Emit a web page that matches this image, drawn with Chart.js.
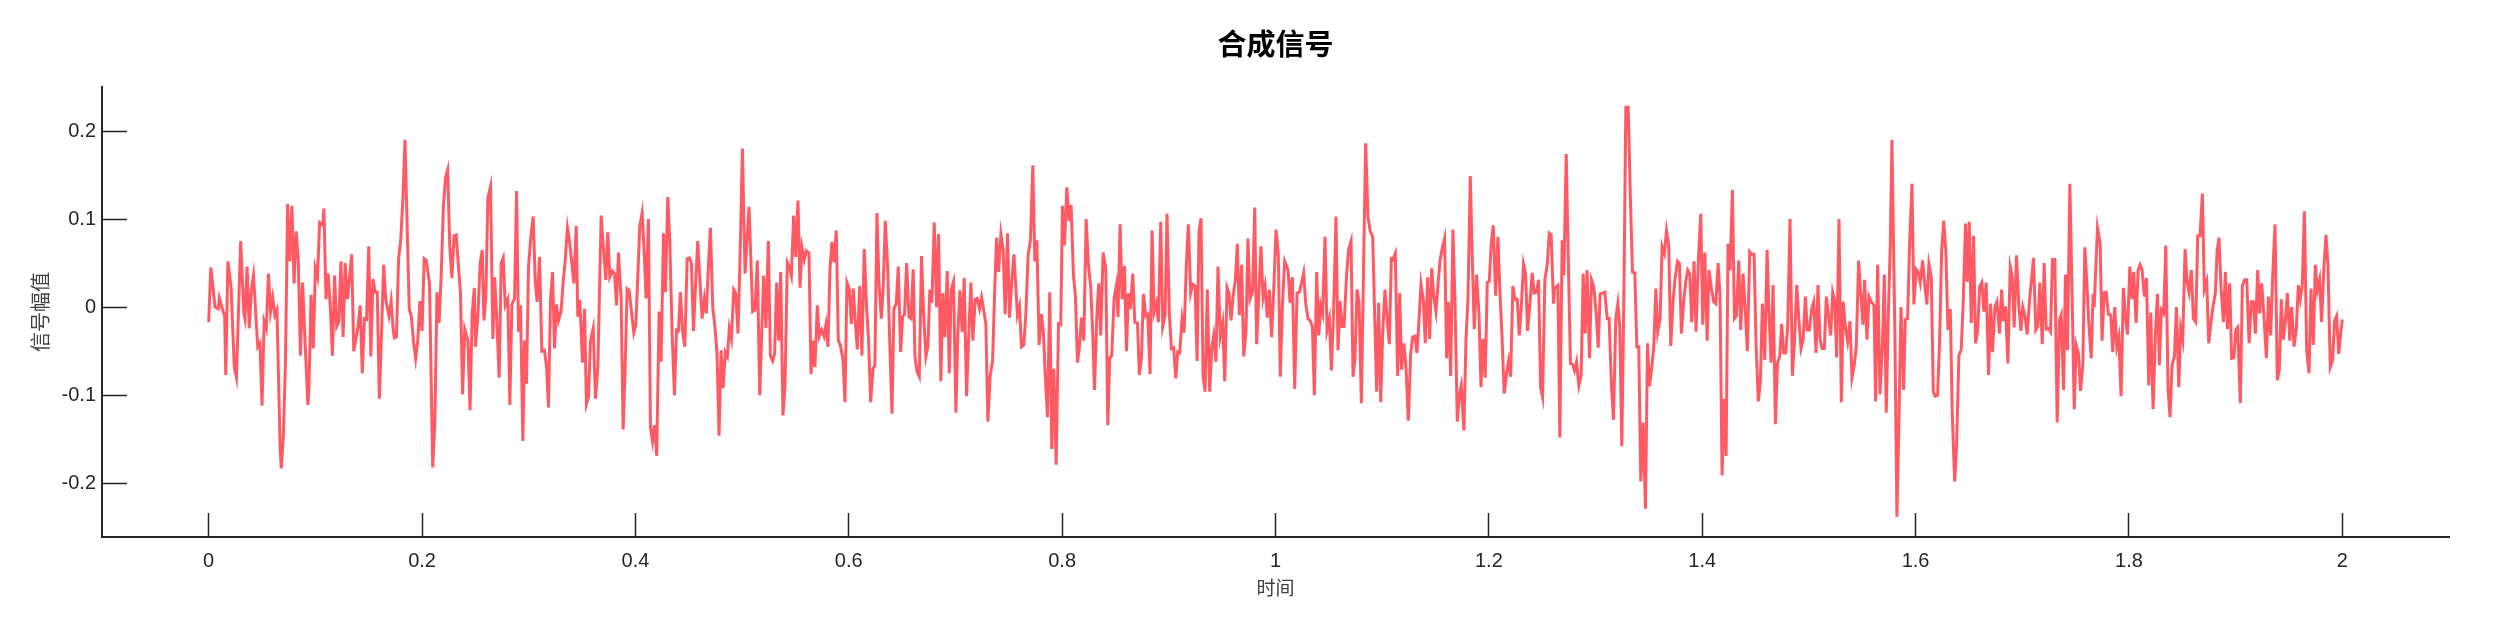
<!DOCTYPE html>
<html>
<head>
<meta charset="utf-8">
<script src="https://cdn.jsdelivr.net/npm/chart.js@4/dist/chart.umd.min.js"></script>
<style>
html,body{margin:0;padding:0;background:#fff;}
#wrap{width:2500px;height:625px;}
</style>
</head>
<body>
<div id="wrap"><canvas id="c" width="2500" height="625"></canvas></div>
<script>
const chartTitle = '合成信号';
const xTitle = '时间';
const yTitle = '信号幅值';
const xTicks = [0, 0.2, 0.4, 0.6, 0.8, 1, 1.2, 1.4, 1.6, 1.8, 2];
const yTicks = [-0.2, -0.1, 0, 0.1, 0.2];
// [time, amplitude] samples
const signal = [
[0.000,-0.017],[0.002,0.045],[0.006,0.000],[0.009,-0.002],[0.010,0.010],[0.013,-0.003],[0.015,-0.010],[0.016,-0.077],
[0.018,0.052],[0.021,0.023],[0.023,-0.038],[0.024,-0.068],[0.026,-0.080],[0.030,0.075],[0.033,-0.007],[0.034,-0.013],
[0.036,0.046],[0.038,-0.024],[0.040,0.019],[0.042,0.036],[0.046,-0.045],[0.048,-0.041],[0.050,-0.112],[0.052,-0.016],
[0.054,-0.024],[0.056,0.038],[0.058,-0.005],[0.060,0.011],[0.062,-0.009],[0.064,-0.003],[0.067,-0.160],[0.068,-0.183],
[0.070,-0.147],[0.072,-0.060],[0.074,0.117],[0.076,0.052],[0.078,0.115],[0.080,0.027],[0.082,0.086],[0.084,0.053],
[0.086,-0.055],[0.088,0.028],[0.090,-0.030],[0.093,-0.111],[0.094,-0.090],[0.096,0.014],[0.098,-0.047],[0.100,0.044],
[0.102,0.034],[0.104,0.096],[0.107,0.093],[0.108,0.112],[0.110,0.009],[0.112,0.038],[0.114,0.000],[0.116,-0.055],
[0.118,0.036],[0.120,-0.022],[0.122,-0.017],[0.124,0.052],[0.126,-0.034],[0.128,0.050],[0.130,0.009],[0.132,0.033],
[0.134,0.060],[0.136,-0.050],[0.140,-0.022],[0.142,0.002],[0.144,-0.075],[0.146,-0.013],[0.148,-0.014],[0.150,0.069],
[0.152,-0.056],[0.154,0.032],[0.156,0.017],[0.158,0.017],[0.160,-0.104],[0.162,-0.030],[0.164,0.048],[0.166,0.008],
[0.169,-0.010],[0.171,0.007],[0.173,-0.026],[0.174,-0.035],[0.176,-0.034],[0.178,0.055],[0.180,0.076],[0.182,0.122],
[0.184,0.190],[0.188,-0.002],[0.190,-0.011],[0.192,-0.039],[0.194,-0.058],[0.196,-0.038],[0.198,0.007],[0.200,-0.027],
[0.202,0.055],[0.204,0.053],[0.207,0.027],[0.209,-0.113],[0.210,-0.182],[0.212,-0.130],[0.214,0.017],[0.216,-0.018],
[0.218,0.038],[0.220,0.114],[0.222,0.147],[0.224,0.156],[0.226,0.069],[0.228,0.033],[0.230,0.081],[0.232,0.082],
[0.236,0.016],[0.238,-0.099],[0.240,-0.025],[0.243,-0.038],[0.245,-0.117],[0.247,-0.007],[0.249,0.022],[0.250,-0.045],
[0.2523,-0.011],[0.2545,0.050],[0.2564,0.065],[0.2580,-0.015],[0.2598,0.012],[0.2617,0.124],[0.2642,0.137],[0.2664,-0.036],
[0.2680,0.034],[0.2698,-0.007],[0.2723,-0.080],[0.2742,0.050],[0.2761,0.056],[0.2780,0.002],[0.2804,0.009],[0.2823,-0.111],
[0.2842,0.003],[0.2867,0.010],[0.2886,0.132],[0.2904,-0.028],[0.2923,0.002],[0.2945,-0.152],[0.2961,-0.038],[0.2979,-0.087],
[0.2998,0.046],[0.3023,0.084],[0.3042,0.103],[0.3061,0.029],[0.3079,0.006],[0.3101,0.057],[0.3123,-0.050],[0.3148,-0.049],
[0.3167,-0.068],[0.3185,-0.114],[0.3204,0.008],[0.3223,0.040],[0.3242,-0.047],[0.3260,0.003],[0.3279,-0.015],[0.3304,-0.004],
[0.3323,0.029],[0.3342,0.053],[0.3363,0.090],[0.3385,0.072],[0.3404,0.050],[0.3423,0.027],[0.3445,0.092],[0.3460,-0.011],
[0.3479,0.008],[0.3504,-0.063],[0.3523,-0.002],[0.3541,-0.110],[0.3560,-0.102],[0.3579,-0.038],[0.3604,-0.024],[0.3626,-0.104],
[0.3648,-0.068],[0.3679,0.104],[0.3704,0.061],[0.3723,0.031],[0.3741,0.085],[0.3760,0.034],[0.3785,0.041],[0.3804,0.038],
[0.3823,0.002],[0.3841,0.062],[0.3866,0.010],[0.3885,-0.139],[0.3904,-0.068],[0.3922,0.021],[0.3941,0.019],[0.3960,-0.002],
[0.3985,-0.029],[0.4004,-0.020],[0.4022,0.034],[0.4041,0.092],[0.4063,0.107],[0.4082,0.063],[0.4100,0.010],[0.4122,0.100],
[0.4141,-0.136],[0.4160,-0.152],[0.4178,-0.134],[0.4200,-0.169],[0.4222,-0.005],[0.4241,-0.062],[0.4263,0.084],[0.4282,0.017],
[0.4303,0.125],[0.4322,0.076],[0.4344,-0.030],[0.4366,-0.100],[0.4385,-0.026],[0.4403,-0.027],[0.4422,0.017],[0.4441,-0.026],
[0.4463,-0.045],[0.4485,0.055],[0.4506,0.056],[0.4525,0.050],[0.4544,-0.027],[0.4563,0.023],[0.4584,0.075],[0.4603,0.034],
[0.4625,-0.013],[0.4647,0.010],[0.4665,-0.007],[0.4684,0.046],[0.4703,0.090],[0.4725,0.000],[0.4747,-0.024],[0.4765,-0.053],
[0.4784,-0.146],[0.4803,-0.049],[0.4822,-0.092],[0.4843,-0.051],[0.4862,-0.056],[0.4881,-0.024],[0.4900,-0.036],[0.4922,0.020],
[0.4940,0.016],[0.4962,-0.030],[0.4984,0.072],[0.5003,0.180],[0.5028,0.038],
[0.5065,0.114],[0.5099,-0.005],[0.5121,-0.003],[0.5143,0.053],[0.5165,-0.100],[0.5202,0.036],[0.5224,-0.024],[0.5246,0.075],
[0.5265,-0.055],[0.5287,-0.061],[0.5305,-0.053],[0.5324,0.028],[0.5343,-0.038],[0.5362,0.040],[0.5383,-0.123],[0.5402,-0.090],
[0.5424,0.051],[0.5443,0.046],[0.5462,0.036],[0.5483,0.104],[0.5502,0.057],[0.5524,0.121],[0.5543,0.022],[0.5561,0.068],
[0.5583,0.054],[0.5602,0.064],[0.5627,0.061],[0.5646,-0.076],[0.5664,-0.038],[0.5683,-0.068],[0.5705,0.002],[0.5724,-0.033],
[0.5746,-0.026],[0.5768,-0.033],[0.5786,-0.020],[0.5805,-0.045],[0.5824,0.044],[0.5842,0.074],[0.5861,0.051],[0.5883,0.087],
[0.5902,-0.038],[0.5921,-0.043],[0.5946,-0.060],[0.5964,-0.108],[0.5983,0.028],[0.6005,0.020],[0.6024,-0.019],[0.6042,0.021],
[0.6061,-0.016],[0.6080,-0.048],[0.6102,0.024],[0.6123,-0.055],[0.6145,0.066],[0.6167,0.000],[0.6186,-0.038],[0.6205,-0.108],
[0.6227,-0.070],[0.6245,-0.066],[0.6264,0.107],[0.6283,0.028],[0.6305,-0.013],[0.6323,0.023],[0.6342,0.098],[0.6364,0.046],
[0.6386,-0.047],[0.6405,-0.121],[0.6423,-0.002],[0.6445,0.004],[0.6464,0.046],[0.6486,-0.051],[0.6504,-0.011],[0.6523,-0.008],
[0.6542,0.050],[0.6564,-0.011],[0.6583,-0.013],[0.6604,0.043],[0.6620,-0.055],[0.6639,-0.073],[0.6661,-0.079],[0.6682,0.058],
[0.6701,-0.007],[0.6723,-0.056],[0.6742,-0.044],[0.6760,0.020],[0.6779,0.005],[0.6801,0.096],[0.6823,0.000],[0.6842,0.083],
[0.6863,-0.084],[0.6882,0.016],[0.6901,-0.034],[0.6923,0.041],[0.6942,-0.075],[0.6960,0.020],[0.6982,0.029],[0.7004,-0.120],
[0.7023,-0.028],[0.7042,0.019],[0.7063,-0.028],[0.7082,0.033],[0.7104,-0.101],[0.7126,-0.026],[0.7145,0.028],[0.7163,-0.038],
[0.7185,0.009],[0.7204,0.010],[0.7226,-0.002],[0.7245,0.011],[0.7263,-0.002],[0.7285,-0.019],[0.7304,-0.130],[0.7326,-0.077],
[0.7348,-0.061],[0.7366,0.012],[0.7385,0.079],[0.7404,0.040],[0.7426,0.083],[0.7447,0.065],[0.7466,-0.008],[0.7488,0.084],
[0.7507,-0.012],[0.7529,0.031],[0.7548,0.060],
[0.7581,-0.009],[0.7600,0.001],[0.7619,-0.045],[0.7641,-0.043],[0.7660,-0.007],[0.7681,0.059],[0.7703,0.076],[0.7725,0.161],
[0.7744,0.052],[0.7763,0.076],[0.7784,-0.043],[0.7806,-0.008],[0.7825,-0.030],[0.7844,-0.083],[0.7863,-0.125],[0.7884,0.017],
[0.7903,-0.161],[0.7922,-0.070],[0.7944,-0.179],[0.7966,-0.019],[0.7987,-0.020],[0.8003,0.115],[0.8022,0.070],[0.8044,0.136],
[0.8065,0.098],[0.8084,0.116],[0.8106,0.036],[0.8125,0.012],[0.8144,-0.063],[0.8162,-0.045],[0.8181,-0.012],[0.8203,-0.038],
[0.8225,0.100],[0.8247,0.047],[0.8268,0.023],[0.8287,-0.030],[0.8303,-0.094],[0.8325,-0.011],[0.8343,0.027],[0.8362,-0.032],
[0.8384,0.062],[0.8409,0.044],[0.8428,-0.134],[0.8446,-0.058],[0.8465,-0.055],[0.8487,0.010],[0.8509,0.025],[0.8524,-0.011],
[0.8543,0.094],[0.8562,0.009],[0.8584,0.047],[0.8603,-0.050],[0.8621,0.016],[0.8640,-0.002],[0.8662,0.038],[0.8681,-0.017],
[0.8706,-0.018],[0.8724,-0.077],[0.8743,-0.058],[0.8762,0.015],[0.8784,-0.010],[0.8802,-0.008],[0.8824,-0.076],[0.8843,0.087],
[0.8862,-0.006],[0.8884,0.004],[0.8902,-0.017],[0.8924,0.097],[0.8943,-0.022],[0.8965,-0.009],[0.8983,0.106],[0.9005,-0.007],
[0.9024,-0.047],[0.9046,-0.046],[0.9065,-0.081],[0.9083,-0.051],[0.9102,-0.052],[0.9124,-0.013],[0.9143,-0.029],[0.9165,0.050],
[0.9183,0.094],[0.9205,0.016],[0.9224,0.026],[0.9246,0.024],[0.9265,-0.061],[0.9283,0.087],[0.9302,0.101],[0.9321,-0.078],
[0.9340,-0.096],[0.9361,0.020],[0.9383,-0.096],[0.9402,-0.047],[0.9421,-0.032],[0.9442,-0.062],[0.9461,0.046],[0.9483,-0.033],
[0.9505,-0.018],[0.9524,-0.084],[0.9546,0.022],[0.9564,0.016],[0.9583,-0.015],[0.9602,0.012],[0.9624,0.031],[0.9642,0.072],
[0.9661,-0.009],[0.9683,0.048],[0.9702,-0.056],[0.9723,-0.028],[0.9742,0.078],[0.9761,0.009],[0.9786,0.018],[0.9805,0.113],
[0.9823,-0.042],[0.9845,0.018],[0.9864,0.069],[0.9883,0.011],[0.9902,0.024],[0.9923,-0.012],[0.9942,0.020],[0.9964,-0.034],
[0.9986,0.028],[1.0005,0.088],[1.0026,0.061],[1.0045,-0.079],[1.0064,0.000],[1.0086,0.052],
[1.0118,0.042],[1.0136,0.005],[1.0158,0.034],[1.0180,-0.093],[1.0202,0.016],[1.0224,0.017],[1.0243,0.027],[1.0264,0.039],
[1.0283,0.004],[1.0305,-0.013],[1.0324,-0.015],[1.0346,-0.022],[1.0364,-0.100],[1.0386,0.040],[1.0405,-0.032],[1.0424,0.002],
[1.0442,-0.007],[1.0464,0.080],[1.0483,-0.026],[1.0505,-0.013],[1.0524,-0.072],[1.0545,-0.003],[1.0567,0.103],[1.0586,-0.049],
[1.0605,0.007],[1.0624,-0.022],[1.0642,-0.022],[1.0667,0.038],[1.0686,0.066],[1.0708,0.075],[1.0727,-0.079],[1.0745,-0.058],
[1.0764,0.020],[1.0783,0.006],[1.0805,-0.109],[1.0823,0.027],[1.0845,0.186],[1.0867,0.101],[1.0889,0.086],[1.0911,0.080],
[1.0930,-0.011],[1.0948,-0.096],[1.0967,0.005],[1.0986,-0.108],[1.1005,-0.030],[1.1026,0.020],[1.1045,-0.011],[1.1067,-0.042],
[1.1086,0.055],[1.1101,0.054],[1.1123,0.061],[1.1145,-0.078],[1.1164,0.016],[1.1182,-0.071],[1.1204,-0.041],[1.1223,-0.068],
[1.1245,-0.129],[1.1267,-0.053],[1.1286,-0.034],[1.1307,-0.033],[1.1326,-0.052],[1.1345,-0.015],[1.1364,0.026],[1.1386,0.008],
[1.1404,-0.041],[1.1426,0.034],[1.1445,-0.036],[1.1464,0.044],[1.1482,0.014],[1.1504,-0.005],[1.1523,0.025],[1.1542,0.053],
[1.1567,0.069],[1.1585,0.078],[1.1604,-0.058],[1.1620,0.006],[1.1642,-0.078],[1.1663,0.088],[1.1682,0.008],[1.1704,-0.130],
[1.1726,-0.098],[1.1741,-0.089],[1.1766,-0.140],[1.1785,-0.038],[1.1804,0.009],[1.1826,0.149],[1.1844,0.057],[1.1863,-0.025],
[1.1885,0.037],[1.1907,-0.007],[1.1926,-0.091],[1.1944,-0.036],[1.1966,-0.080],[1.1985,0.028],[1.2004,0.029],[1.2022,0.072],
[1.2041,0.093],[1.2063,0.013],[1.2085,0.080],[1.2104,0.017],[1.2122,-0.030],[1.2144,-0.098],[1.2166,-0.075],[1.2185,-0.061],
[1.2204,-0.079],[1.2225,0.024],[1.2244,0.009],[1.2266,0.009],[1.2285,-0.032],[1.2303,-0.002],[1.2325,0.049],[1.2344,0.038],
[1.2363,-0.027],[1.2385,0.005],[1.2406,0.039],[1.2425,0.016],[1.2447,0.017],[1.2466,0.031],[1.2485,-0.091],[1.2503,-0.102],
[1.2525,0.031],[1.2547,0.048],[1.2566,0.084],[1.2584,0.082],[1.2606,0.004],[1.2616,0.021],
[1.2628,0.023],[1.2647,0.025],[1.2665,-0.148],[1.2687,0.076],[1.2703,0.036],[1.2725,0.174],[1.2743,0.063],[1.2765,-0.064],
[1.2784,-0.065],[1.2803,-0.072],[1.2822,-0.062],[1.2843,-0.089],[1.2865,-0.077],[1.2884,0.038],[1.2903,-0.030],[1.2921,0.042],
[1.2943,-0.058],[1.2962,0.031],[1.2984,0.023],[1.3006,-0.007],[1.3025,-0.046],[1.3043,0.015],[1.3065,0.016],[1.3087,0.017],
[1.3109,-0.013],[1.3127,-0.013],[1.3149,-0.089],[1.3168,-0.128],[1.3190,-0.013],[1.3209,0.004],[1.3227,-0.022],[1.3246,-0.158],
[1.3265,0.008],[1.3284,0.227],[1.3306,0.227],[1.3327,0.122],[1.3346,0.040],[1.3368,0.039],[1.3387,-0.045],[1.3405,-0.045],
[1.3424,-0.198],[1.3446,-0.131],[1.3468,-0.229],[1.3487,-0.041],[1.3505,-0.090],[1.3527,-0.068],[1.3546,-0.045],[1.3565,0.021],
[1.3583,-0.028],[1.3605,-0.013],[1.3624,0.069],[1.3646,0.061],[1.3665,0.087],[1.3686,0.070],[1.3705,-0.044],[1.3727,0.008],
[1.3746,0.033],[1.3768,0.052],[1.3786,0.050],[1.3805,-0.030],[1.3827,0.008],[1.3846,0.029],[1.3864,0.042],[1.3883,0.038],
[1.3902,-0.017],[1.3924,0.052],[1.3942,-0.028],[1.3964,0.053],[1.3986,0.106],[1.4005,-0.020],[1.4024,0.062],[1.4046,-0.038],
[1.4064,0.042],[1.4086,0.021],[1.4108,0.006],[1.4127,0.004],[1.4149,0.050],[1.4167,0.012],[1.4186,-0.191],[1.4205,-0.104],
[1.4224,-0.169],[1.4242,0.072],[1.4261,0.042],[1.4283,0.133],[1.4302,-0.013],[1.4320,-0.010],[1.4342,0.053],[1.4361,-0.026],
[1.4383,0.038],[1.4405,-0.007],[1.4423,-0.050],[1.4445,0.063],[1.4464,0.060],[1.4486,0.060],[1.4505,-0.044],[1.4526,-0.107],
[1.4545,-0.084],[1.4564,0.004],[1.4586,-0.060],[1.4608,0.065],[1.4626,-0.007],[1.4645,-0.063],[1.4664,0.025],[1.4686,-0.133],
[1.4705,-0.064],[1.4726,-0.056],[1.4745,-0.019],[1.4764,-0.052],[1.4783,-0.052],[1.4801,-0.022],[1.4823,0.100],[1.4845,-0.078],
[1.4864,-0.040],[1.4886,0.025],[1.4907,-0.016],[1.4926,-0.047],[1.4945,-0.038],[1.4967,0.012],[1.4985,-0.026],[1.5004,-0.026],
[1.5026,-0.002],[1.5045,0.006],[1.5067,-0.052],[1.5085,0.025],[1.5104,-0.036],[1.5123,-0.047],[1.5145,-0.047],
[1.5163,0.012],[1.5185,-0.011],[1.5204,-0.032],[1.5223,0.017],[1.5241,0.008],[1.5260,-0.057],[1.5282,0.100],[1.5304,-0.108],
[1.5322,0.006],[1.5341,-0.022],[1.5363,-0.039],[1.5385,-0.016],[1.5404,-0.080],[1.5425,-0.066],[1.5444,-0.045],[1.5466,0.053],
[1.5485,0.016],[1.5507,-0.020],[1.5522,0.031],[1.5544,-0.037],[1.5563,0.012],[1.5585,0.006],[1.5610,0.002],[1.5625,-0.107],
[1.5644,0.048],[1.5666,-0.099],[1.5688,-0.047],[1.5707,0.037],[1.5725,-0.120],[1.5744,-0.011],[1.5763,0.072],[1.5778,0.190],
[1.5806,-0.030],[1.5825,-0.238],[1.5844,-0.128],[1.5863,0.000],[1.5888,-0.094],[1.5903,-0.014],[1.5925,-0.013],[1.5944,0.072],
[1.5966,0.140],[1.5984,0.003],[1.6006,0.043],[1.6025,0.040],[1.6044,0.028],[1.6066,0.053],[1.6087,0.025],[1.6106,0.003],
[1.6125,0.049],[1.6147,0.034],[1.6166,-0.096],[1.6184,-0.101],[1.6206,-0.100],[1.6225,-0.038],[1.6244,0.063],[1.6263,0.098],
[1.6284,0.063],[1.6303,-0.026],[1.6325,-0.002],[1.6344,-0.121],[1.6366,-0.198],[1.6384,-0.159],[1.6406,-0.055],[1.6428,-0.048],
[1.6447,0.008],[1.6468,0.095],[1.6484,0.029],[1.6503,0.097],[1.6522,-0.018],[1.6543,0.081],[1.6562,-0.041],[1.6581,-0.028],
[1.6600,0.023],[1.6621,0.028],[1.6640,-0.005],[1.6662,0.028],[1.6684,-0.077],[1.6703,0.004],[1.6721,-0.051],[1.6743,0.000],
[1.6762,0.006],[1.6787,-0.030],[1.6806,0.020],[1.6824,-0.016],[1.6843,0.001],[1.6865,-0.064],[1.6887,0.046],[1.6906,0.035],
[1.6924,-0.023],[1.6946,0.059],[1.6968,0.001],[1.6987,-0.027],[1.7005,0.000],[1.7027,-0.011],[1.7046,-0.031],[1.7068,0.008],
[1.7087,0.031],[1.7105,0.056],[1.7127,-0.026],[1.7146,-0.022],[1.7165,0.028],[1.7187,-0.042],[1.7205,0.050],[1.7224,-0.025],
[1.7246,-0.024],[1.7265,-0.028],[1.7283,0.054],[1.7305,0.054],[1.7327,-0.131],[1.7349,-0.015],[1.7365,-0.009],[1.7387,-0.094],
[1.7405,0.037],[1.7424,-0.049],[1.7446,0.140],[1.7468,0.008],[1.7487,-0.116],[1.7505,-0.043],[1.7527,-0.053],[1.7546,-0.095],
[1.7568,-0.064],[1.7586,0.068],[1.7605,0.029],[1.7624,-0.019],[1.7646,-0.058],[1.7664,0.015],[1.7674,0.000],
[1.7705,0.090],[1.7730,0.072],[1.7748,-0.038],[1.7767,0.016],[1.7786,0.017],[1.7808,-0.008],[1.7830,-0.009],[1.7848,-0.051],
[1.7867,0.000],[1.7886,-0.045],[1.7905,-0.034],[1.7926,-0.101],[1.7948,0.022],[1.7967,-0.011],[1.7986,-0.031],[1.8008,0.046],
[1.8029,0.009],[1.8045,0.040],[1.8067,-0.018],[1.8086,0.042],[1.8104,0.048],[1.8123,0.042],[1.8145,0.012],[1.8164,0.033],
[1.8186,-0.089],[1.8204,-0.006],[1.8226,-0.116],[1.8248,-0.030],[1.8267,0.015],[1.8285,-0.066],[1.8304,-0.003],[1.8326,-0.007],
[1.8345,0.070],[1.8367,-0.095],[1.8385,-0.125],[1.8404,-0.066],[1.8426,-0.056],[1.8445,0.000],[1.8467,-0.091],[1.8485,-0.024],
[1.8504,-0.037],[1.8526,0.066],[1.8545,0.029],[1.8563,0.017],[1.8585,0.042],[1.8604,-0.013],[1.8626,-0.017],[1.8645,0.081],
[1.8666,0.081],[1.8688,0.129],[1.8707,0.020],[1.8729,0.029],[1.8748,-0.041],[1.8769,-0.017],[1.8788,0.001],[1.8810,0.016],
[1.8826,0.063],[1.8844,0.079],[1.8863,0.023],[1.8885,-0.017],[1.8904,0.040],[1.8923,-0.025],[1.8944,0.027],[1.8963,-0.058],
[1.8985,-0.057],[1.9001,-0.026],[1.9019,-0.023],[1.9044,-0.109],[1.9063,0.024],[1.9085,0.031],[1.9104,0.031],[1.9126,-0.041],
[1.9147,0.006],[1.9166,0.006],[1.9185,-0.030],[1.9207,0.042],[1.9225,-0.007],[1.9244,0.027],[1.9266,-0.011],[1.9288,-0.058],
[1.9307,0.012],[1.9328,-0.032],[1.9347,0.034],[1.9369,0.094],[1.9391,-0.083],[1.9410,-0.070],[1.9428,0.009],[1.9447,-0.037],
[1.9466,-0.015],[1.9485,0.016],[1.9507,-0.038],[1.9525,0.000],[1.9547,-0.045],[1.9569,-0.024],[1.9588,0.025],[1.9606,0.009],
[1.9625,0.025],[1.9644,0.109],[1.9666,-0.049],[1.9688,-0.075],[1.9706,0.021],[1.9728,-0.043],[1.9747,0.048],[1.9766,0.019],
[1.9787,0.031],[1.9806,-0.017],[1.9828,0.047],[1.9847,0.082],[1.9866,0.046],[1.9887,-0.068],[1.9909,-0.060],[1.9928,-0.015],
[1.9947,-0.010],[1.9966,-0.053],[1.9984,-0.030],[2.0000,-0.014]
];

const time = signal.map(p => p[0]);
const amplitude = signal.map(p => p[1]);

const axisColor = '#262626';
const tickFont = { family: '"Liberation Sans", Arial, sans-serif', size: 20 };

new Chart(document.getElementById('c'), {
  type: 'line',
  data: {
    datasets: [{
      data: time.map((t, i) => ({ x: t, y: amplitude[i] })),
      borderColor: 'rgb(255,90,100)',
      borderWidth: 3,
      pointRadius: 0,
      tension: 0,
      fill: false
    }]
  },
  options: {
    responsive: false,
    animation: false,
    devicePixelRatio: 1,
    layout: { padding: { left: 0, right: 51, top: 0, bottom: 0 } },
    plugins: {
      legend: { display: false },
      tooltip: { enabled: false },
      title: {
        display: true,
        text: chartTitle,
        fullSize: false,
        color: '#000',
        font: { family: '"Noto Sans CJK SC", sans-serif', size: 29, weight: 'bold', lineHeight: 1.2 },
        padding: { top: 27, bottom: 25.2 }
      }
    },
    scales: {
      x: {
        type: 'linear',
        min: -0.1,
        max: 2.1,
        afterBuildTicks: s => { s.ticks = xTicks.map(v => ({ value: v })); },
        afterFit: s => { s.height = 88; },
        ticks: { color: axisColor, font: tickFont, padding: 36, maxRotation: 0, autoSkip: false,
                 callback: v => String(v) },
        grid: { drawOnChartArea: false, drawTicks: true, tickLength: -24, tickColor: axisColor, tickWidth: 1.5 },
        border: { display: true, color: axisColor, width: 2 },
        title: { display: true, text: xTitle, color: '#404040',
                 font: { family: '"Noto Sans CJK SC", sans-serif', size: 19, lineHeight: 1.2 },
                 padding: { top: 0, bottom: 26 } }
      },
      y: {
        type: 'linear',
        min: -0.261,
        max: 0.25,
        afterBuildTicks: s => { s.ticks = yTicks.map(v => ({ value: v })); },
        afterFit: s => { s.width = 102; },
        ticks: { color: axisColor, font: tickFont, padding: 31, autoSkip: false,
                 callback: v => String(v) },
        grid: { drawOnChartArea: false, drawTicks: true, tickLength: -25, tickColor: axisColor, tickWidth: 1.5 },
        border: { display: true, color: axisColor, width: 2 },
        title: { display: true, text: yTitle, color: '#404040',
                 font: { family: '"Noto Sans CJK SC", sans-serif', size: 20, lineHeight: 1.2 },
                 padding: { top: 28, bottom: 0 } }
      }
    }
  }
});
</script>
</body>
</html>
